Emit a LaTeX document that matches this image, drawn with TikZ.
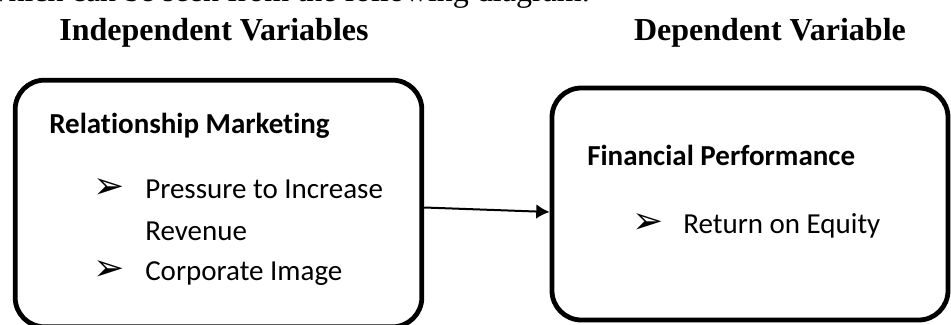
\documentclass[tikz,border=0pt]{standalone}
\usepackage{fontspec}
\setmainfont{Liberation Serif}
\newfontfamily\calibri[Ligatures=NoCommon]{Carlito}
\newfontfamily\dingfont{DejaVu Sans}
\usepackage{tikz}
\usetikzlibrary{calc, arrows.meta}
\tikzstyle{varbox} = [rectangle, rounded corners=22pt, draw=black, line width=3.6pt, inner sep=0pt]
\tikzstyle{heading} = [font=\fontsize{24}{28}\selectfont\bfseries, anchor=base, inner sep=0pt]
\tikzstyle{boxtitle} = [font=\calibri\fontsize{21.75}{26}\selectfont\bfseries, anchor=base west, inner sep=0pt]
\tikzstyle{item} = [font=\calibri\fontsize{21.75}{26}\selectfont, anchor=base west, inner sep=0pt]
\tikzstyle{bullet} = [font=\dingfont\fontsize{28}{30}\selectfont, anchor=base west, inner sep=0pt]
\newcommand{\arrowbullet}{\char"27A2}

\begin{document}
\begin{tikzpicture}[x=0.75pt, y=-0.75pt]

        \useasboundingbox (0,0) rectangle (951,325);

        \node (intro) [anchor=base east, inner sep=0pt, font=\fontsize{24}{28}\selectfont] at (590,1) {which can be seen from the following diagram.};

        \node (indep) [heading] at (214,40) {Independent Variables};
        \node (dep) [heading] at (770,40) {Dependent Variable};

        \node (relbox) [varbox, minimum width=305pt, minimum height=185pt] at (218.5,203.5) {};
        \node (finbox) [varbox, minimum width=297pt, minimum height=174pt] at (750,204) {};

        \node (reltitle) [boxtitle] at (49,133) {Relationship Marketing};
        \node (bulletone) [bullet] at (93,198) {\arrowbullet};
        \node (pressure) [item] at (145,198) {Pressure to Increase};
        \node (revenue) [item] at (145,240) {Revenue};
        \node (bullettwo) [bullet] at (93,280) {\arrowbullet};
        \node (image) [item] at (145,280) {Corporate Image};

        \node (fintitle) [boxtitle] at (587,165) {Financial Performance};
        \node (bulletthree) [bullet] at (632,233) {\arrowbullet};
        \node (equity) [item] at (683,233) {Return on Equity};

        \draw[-{Latex[length=10pt,width=11pt]}, line width=1.5pt] ([yshift=-3pt]relbox.east) -- ([yshift=-6pt]finbox.west);

    \end{tikzpicture}
\end{document}
